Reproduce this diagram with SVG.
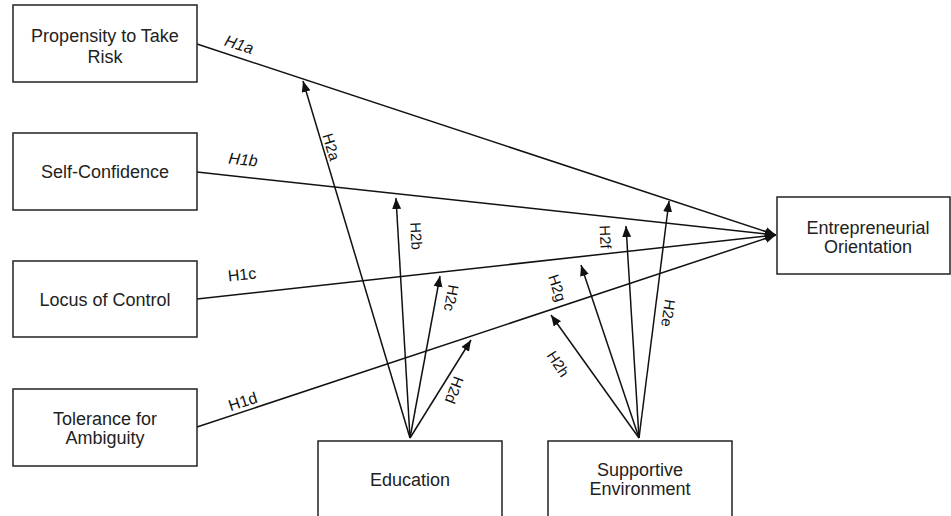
<svg xmlns="http://www.w3.org/2000/svg" width="951" height="516" viewBox="0 0 951 516">
<style>
.box{fill:#fff;stroke:#222;stroke-width:1.5}
.t{font-family:"Liberation Sans",Arial,sans-serif;font-size:18px;fill:#222;text-anchor:middle}
.l1{font-family:"Liberation Sans",Arial,sans-serif;font-size:16px;fill:#111;text-anchor:middle}
.l2{font-family:"Liberation Sans",Arial,sans-serif;font-size:15px;fill:#111;text-anchor:middle}
.c{stroke:#111;stroke-width:1.5;fill:none;marker-end:url(#ah)}
</style>
<defs>
<marker id="ah" markerUnits="userSpaceOnUse" markerWidth="12" markerHeight="10" refX="11" refY="4.5" orient="auto">
<path d="M0,0 L11,4.5 L0,9 Z" fill="#111"/>
</marker>
</defs>
<rect width="951" height="516" fill="#fff"/>
<g id="connectors">
<line class="c" x1="197" y1="44" x2="776" y2="235"/>
<line class="c" x1="197" y1="172" x2="776" y2="235"/>
<line class="c" x1="197" y1="299" x2="776" y2="235"/>
<line class="c" x1="197" y1="427" x2="776" y2="235"/>
<line class="c" x1="410" y1="438" x2="303" y2="81"/>
<line class="c" x1="410" y1="438" x2="396" y2="198"/>
<line class="c" x1="410" y1="438" x2="440" y2="276"/>
<line class="c" x1="410" y1="438" x2="471" y2="340"/>
<line class="c" x1="639" y1="438" x2="669" y2="201"/>
<line class="c" x1="639" y1="438" x2="626" y2="226"/>
<line class="c" x1="639" y1="438" x2="581" y2="265"/>
<line class="c" x1="639" y1="438" x2="551" y2="315"/>
<text class="l1" font-style="italic" transform="translate(239,45) rotate(18)" y="5">H1a</text>
<text class="l1" font-style="italic" transform="translate(243,160) rotate(6)" y="5">H1b</text>
<text class="l1" transform="translate(242,275) rotate(-6)" y="5">H1c</text>
<text class="l1" transform="translate(243,402) rotate(-18)" y="5">H1d</text>
<text class="l2" transform="translate(331,147) rotate(73)" y="5">H2a</text>
<text class="l2" transform="translate(416,236) rotate(87)" y="5">H2b</text>
<text class="l2" transform="translate(451,298) rotate(100)" y="5">H2c</text>
<text class="l2" transform="translate(454,390) rotate(111)" y="5">H2d</text>
<text class="l2" transform="translate(668,313) rotate(98)" y="5">H2e</text>
<text class="l2" transform="translate(605,237) rotate(87)" y="5">H2f</text>
<text class="l2" transform="translate(557,288) rotate(72)" y="5">H2g</text>
<text class="l2" transform="translate(558,364) rotate(57)" y="5">H2h</text>
</g>
<g id="propensity">
<rect class="box" x="13" y="5" width="184" height="77"/>
<text class="t" x="105" y="42">Propensity to Take</text>
<text class="t" x="105" y="63">Risk</text>
</g>
<g id="selfconfidence">
<rect class="box" x="13" y="133" width="184" height="77"/>
<text class="t" x="105" y="178">Self-Confidence</text>
</g>
<g id="locus">
<rect class="box" x="13" y="261" width="184" height="76"/>
<text class="t" x="105" y="306">Locus of Control</text>
</g>
<g id="tolerance">
<rect class="box" x="13" y="389" width="184" height="77"/>
<text class="t" x="105" y="425">Tolerance for</text>
<text class="t" x="105" y="444">Ambiguity</text>
</g>
<g id="education">
<rect class="box" x="318" y="441" width="184" height="80"/>
<text class="t" x="410" y="486">Education</text>
</g>
<g id="supportive">
<rect class="box" x="548" y="441" width="184" height="80"/>
<text class="t" x="640" y="476">Supportive</text>
<text class="t" x="640" y="495">Environment</text>
</g>
<g id="eo">
<rect class="box" x="777" y="197" width="173" height="77"/>
<text class="t" x="868" y="234">Entrepreneurial</text>
<text class="t" x="868" y="253">Orientation</text>
</g>
</svg>
